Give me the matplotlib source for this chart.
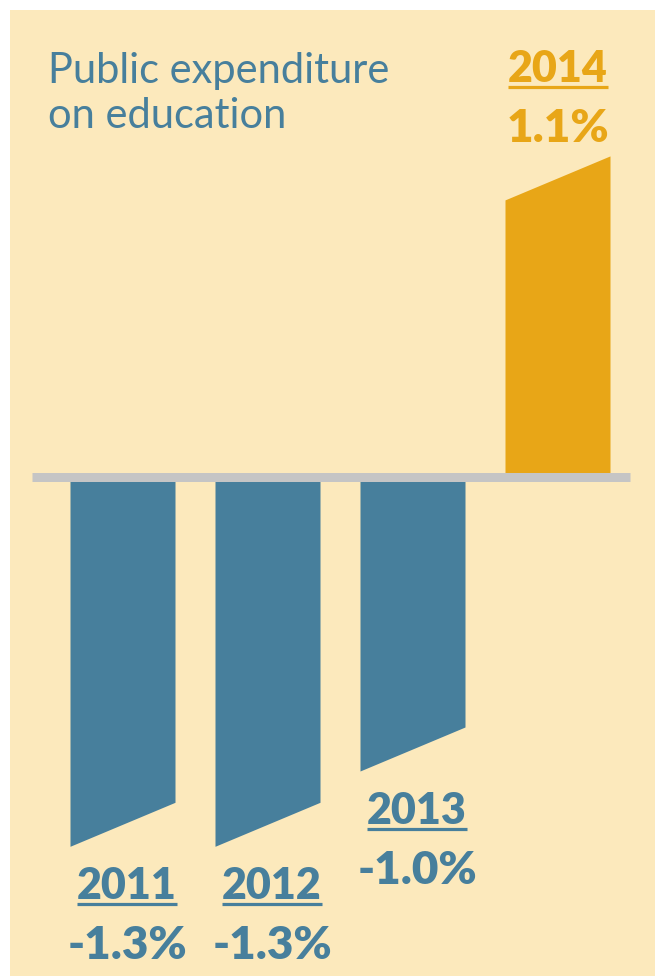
import numpy as np
import matplotlib.pyplot as plt
from matplotlib.lines import Line2D

# === Datos ===
years = ["2011", "2012", "2013", "2014"]
values = [-1.3, -1.3, -1.0, 1.1]
value_labels = ["-1.3%", "-1.3%", "-1.0%", "1.1%"]
title_lines = ["Public expenditure", "on education"]

# === Estilo ===
bg = "#FCE9BC"
blue = "#477F9C"
orange = "#E8A617"
grey = "#C5C5C5"
font = "Lato"

W, H = 655, 976
fig = plt.figure(figsize=(W / 100, H / 100), dpi=100)
fig.patch.set_facecolor("white")

# ejes que cubren el fondo amarillo (margen blanco arriba e izquierda)
ax = fig.add_axes([10 / W, 0, (W - 10) / W, (H - 10) / H])
ax.set_facecolor(bg)
for s in ax.spines.values():
    s.set_visible(False)
ax.set_xticks([])
ax.set_yticks([])

# escala: 251 px por punto porcentual, cero en y=476.5 px
px_per_unit = 251.0
zero_px = 476.5
ax.set_ylim((zero_px - H) / px_per_unit, (zero_px - 10) / px_per_unit)
spacing_px = 145.0
first_px = 123.0
ax.set_xlim((10 - first_px) / spacing_px, (W - first_px) / spacing_px)

bar_w = 105 / spacing_px
slant = 44 / px_per_unit
x = np.arange(len(values))

# barras con el extremo inclinado
for xi, v in zip(x, values):
    l, r = xi - bar_w / 2, xi + bar_w / 2
    if v < 0:
        xs = [l, r, r, l]
        ys = [0, 0, v, v - slant]
        c = blue
    else:
        xs = [l, r, r, l]
        ys = [0, 0, v + slant, v]
        c = orange
    ax.fill(xs, ys, color=c, lw=0, zorder=2)

# línea base gris
ax.plot([(32 - first_px) / spacing_px, (630 - first_px) / spacing_px], [0, 0],
        color=grey, lw=9 * 0.72, solid_capstyle="butt", zorder=3)

# === Etiquetas ===
year_texts = []
for xi, v, yr, lab in zip(x, values, years, value_labels):
    if v < 0:
        c = blue
        tip = v - slant
        y_year = -52 * 0.72
        y_val = y_year - 60 * 0.72
        dx = 4 * 0.72
    else:
        c = orange
        tip = v
        y_val = 58 * 0.72
        y_year = y_val + 60 * 0.72
        dx = 0
    t = ax.annotate(yr, (xi, tip), xytext=(dx, y_year), textcoords="offset points",
                    ha="center", va="baseline", fontsize=31, fontweight="heavy",
                    color=c, family=font)
    ax.annotate(lab, (xi, tip), xytext=(dx, y_val), textcoords="offset points",
                ha="center", va="baseline", fontsize=33, fontweight="heavy",
                color=c, family=font)
    year_texts.append((t, c))

# título
fig.text(48 / W, 1 - 83 / H, title_lines[0], fontsize=30, color=blue,
         family=font, va="baseline", ha="left")
fig.text(48 / W, 1 - 128 / H, title_lines[1], fontsize=30, color=blue,
         family=font, va="baseline", ha="left")

# subrayado de los años
fig.canvas.draw()
renderer = fig.canvas.get_renderer()
for t, c in year_texts:
    bb = t.get_window_extent(renderer)
    # línea unos 7 px por debajo de la base del texto
    yb = bb.y0 + 2
    line = Line2D([bb.x0 / W, bb.x1 / W], [yb / H, yb / H], transform=fig.transFigure,
                  color=c, lw=3.2 * 0.72, solid_capstyle="butt")
    fig.add_artist(line)

fig.savefig("out.png", dpi=100, facecolor="white")
